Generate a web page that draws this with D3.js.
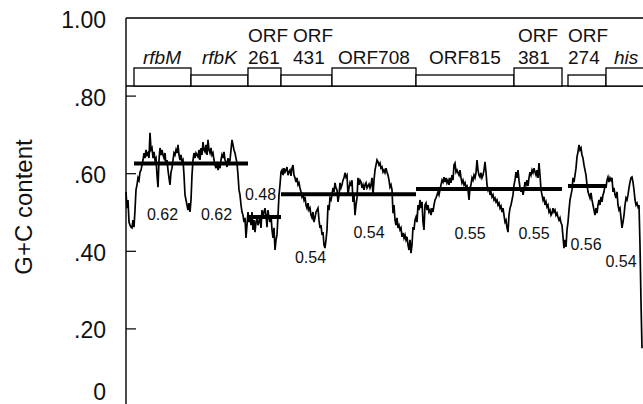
<!DOCTYPE html>
<html>
<head>
<meta charset="utf-8">
<script src="https://cdn.jsdelivr.net/npm/d3@7"></script>
<style>
  body { margin: 0; background: #fff; }
  svg { display: block; font-family: "Liberation Sans", Arial, Helvetica, sans-serif; }
</style>
</head>
<body>
<svg id="chart"></svg>
<script>
// G+C content (%) per sliding window
const gcPercent = [
  55.2,51.0,53.1,47.4,46.6,46.1,45.9,47.9,46.1,50.5,
  55.7,57.0,58.8,58.2,60.3,60.8,62.1,63.4,65.2,63.9,
  66.0,64.7,65.2,63.9,70.4,66.0,66.5,63.9,65.5,63.4,
  63.9,59.5,56.4,63.4,66.5,64.7,66.0,64.7,63.9,65.2,
  62.1,63.4,60.8,58.8,57.0,60.3,61.3,63.4,65.2,64.7,
  66.0,65.2,67.3,64.7,63.4,64.7,62.9,63.4,59.5,54.4,
  53.1,51.8,50.5,52.3,50.0,53.1,59.5,63.4,65.2,63.9,
  65.2,64.7,64.2,66.0,63.4,66.5,64.7,68.0,66.0,65.5,
  67.3,64.7,68.6,66.0,65.2,66.5,64.7,65.2,63.4,62.1,
  61.3,62.9,60.8,62.1,61.3,63.4,64.7,63.9,65.5,63.4,
  62.9,61.6,63.9,62.1,63.4,66.0,68.6,67.3,66.0,65.2,
  63.9,62.6,59.5,55.7,54.4,51.8,50.0,49.2,47.4,48.5,
  43.3,46.6,50.0,47.4,49.2,46.6,50.0,45.4,47.9,44.8,
  47.4,48.5,46.6,47.4,49.2,45.9,50.5,48.5,50.0,51.0,
  49.2,46.1,50.5,48.5,47.4,49.2,45.4,43.3,45.9,40.2,
  42.8,44.1,49.2,54.4,57.0,60.3,60.8,59.5,61.3,60.3,
  60.8,61.6,59.5,60.3,60.8,59.3,61.3,62.1,59.5,58.8,
  57.7,58.8,57.0,57.5,56.2,55.2,53.9,54.4,53.1,53.9,
  51.8,51.0,52.3,50.5,51.0,49.2,48.5,50.0,47.4,48.5,
  50.0,50.5,51.0,47.9,45.9,46.6,44.1,44.8,41.5,40.7,
  42.8,45.4,51.8,50.5,53.6,53.1,54.4,56.2,55.2,57.5,
  56.2,55.7,52.6,54.4,57.5,56.2,57.0,58.2,58.8,60.1,
  59.0,59.5,54.4,56.2,57.5,56.7,58.2,52.6,54.4,49.2,
  51.8,53.6,58.8,57.0,58.2,57.7,56.2,57.0,55.7,57.0,
  57.5,56.2,56.7,57.2,56.2,57.0,58.8,54.4,58.2,60.8,
  62.1,63.4,62.9,62.1,62.6,61.3,61.6,60.3,60.8,60.1,
  61.3,60.3,59.5,58.2,56.4,57.0,55.7,49.7,51.8,47.9,
  46.6,48.5,45.9,46.6,45.4,45.9,43.6,44.6,43.3,44.1,
  42.8,43.6,41.5,40.2,42.8,39.4,41.5,46.1,45.4,47.9,
  48.7,47.4,51.8,50.5,53.1,51.0,52.6,47.4,45.4,51.8,
  52.3,50.5,51.8,50.0,50.5,49.2,51.0,50.0,51.8,53.1,
  53.6,54.4,55.2,54.4,55.7,57.0,58.2,57.7,59.0,57.7,
  58.8,57.5,58.2,57.0,58.8,57.5,59.5,58.2,62.1,62.6,
  60.3,60.8,60.1,59.5,60.8,58.8,57.5,58.2,57.0,57.5,
  56.2,56.7,55.7,53.1,56.2,57.0,58.8,58.2,59.5,58.8,
  60.1,63.4,60.8,59.5,59.0,60.1,58.8,59.5,60.8,62.9,
  60.3,57.0,55.7,56.4,54.4,55.2,53.9,54.4,53.1,53.6,
  52.6,53.1,51.8,52.3,51.0,51.5,50.0,51.0,49.2,47.4,
  47.9,45.9,44.8,49.2,51.0,51.8,53.1,54.4,57.0,58.2,
  60.3,58.8,60.8,58.2,56.2,55.2,56.4,54.4,55.7,57.7,
  57.0,58.2,56.7,58.8,60.3,59.5,60.8,60.1,61.3,60.3,
  59.5,60.8,58.8,62.6,59.5,55.7,54.4,53.1,53.9,51.8,
  52.6,51.3,51.8,50.0,50.5,49.2,49.7,51.0,50.0,50.5,
  49.2,49.7,48.7,47.9,48.5,47.2,46.6,43.6,40.7,42.8,
  41.0,45.4,47.4,50.5,53.1,54.4,55.7,58.8,57.7,59.5,
  61.3,64.2,65.5,67.3,66.0,66.5,64.7,63.9,62.1,60.8,
  59.5,57.0,55.2,54.4,53.6,54.9,53.1,51.8,50.5,49.2,
  51.0,49.7,51.8,53.1,51.8,53.9,52.6,54.4,55.2,57.0,
  56.2,58.2,59.0,57.7,58.8,58.2,58.8,55.2,56.2,54.4,
  53.6,55.2,51.8,50.5,51.0,48.5,45.9,47.4,49.2,51.8,
  53.6,53.1,54.4,56.2,57.7,58.8,59.0,57.7,55.7,53.1,
  51.8,52.3,51.3,51.8,41.5,26.8,14.9
];
const windowStep = 25; // bp between windows

// gene map (bp)
const geneLabels = [['rfbM'], ['rfbK'], ['ORF', '261'], ['ORF', '431'], ['ORF708'], ['ORF815'], ['ORF', '381'], ['ORF', '274'], ['his']];
const geneItalic = [true, true, false, false, false, false, false, false, true];
const geneStart  = [200, 1625, 3050, 3875, 5150, 7250, 9700, 11050, 12000];
const geneEnd    = [1625, 3050, 3875, 5150, 7250, 9700, 10900, 12000, 13300];
const geneTall   = [true, false, true, false, true, false, true, false, true];

// mean G+C per gene
const meanText  = ['0.62', '0.62', '0.48', '0.54', '0.54', '0.55', '0.55', '0.56', '0.54'];
const meanLevel = [0.625, 0.625, 0.487, 0.546, 0.546, 0.559, 0.559, 0.567, null];

const yTickValues = [0, 0.2, 0.4, 0.6, 0.8, 1.0];
const yTickText   = ['0', '.20', '.40', '.60', '.80', '1.00'];

// layout
const W = 643, H = 404;
const plotLeft = 126, plotRight = 643, plotTop = 18, plotBottom = 406;
const mapBase = 86, tallTop = 68, shortTop = 75;
const geneLabelDx = [9, 11, 0, 12, 6, 13, 4, 0, 8];
const meanLabelDx = [0, -3, -4, 4, -5, 5, -4, -1, -11];
const meanLabelY  = [220, 220, 200, 263, 238, 239, 239, 250, 267];

const svg = d3.select('#chart').attr('width', W).attr('height', H);

const x = d3.scaleLinear().domain([0, gcPercent.length * windowStep]).range([plotLeft, plotRight]);
const y = d3.scaleLinear().domain([0, 1]).range([plotBottom, plotTop]);

// frame
svg.append('line')
  .attr('x1', plotLeft).attr('x2', plotLeft).attr('y1', plotTop).attr('y2', H)
  .attr('stroke', '#000').attr('stroke-width', 1.4);
svg.append('line')
  .attr('x1', plotLeft).attr('x2', plotRight).attr('y1', y(1)).attr('y2', y(1))
  .attr('stroke', '#000').attr('stroke-width', 1.4);

// inward ticks
const axis = svg.append('g')
  .attr('transform', `translate(${plotLeft},0)`)
  .call(d3.axisRight(y).tickValues([0.2, 0.4, 0.6, 0.8]).tickSize(10).tickFormat(''));
axis.select('.domain').remove();
axis.selectAll('.tick line').attr('stroke', '#000').attr('stroke-width', 1.2);

svg.append('g').selectAll('text')
  .data(yTickValues)
  .enter().append('text')
  .attr('x', 106)
  .attr('y', d => Math.min(y(d) + 2, 392))
  .attr('dy', '0.35em')
  .style('text-anchor', 'end')
  .style('font-size', '23px')
  .style('fill', '#111')
  .text((d, i) => yTickText[i]);

svg.append('text')
  .attr('transform', 'translate(32,207) rotate(-90)')
  .style('text-anchor', 'middle')
  .style('font-size', '24px')
  .style('fill', '#111')
  .text('G+C content');

// gene map
svg.append('line')
  .attr('x1', plotLeft).attr('x2', plotRight).attr('y1', mapBase).attr('y2', mapBase)
  .attr('stroke', '#000').attr('stroke-width', 1.6);

const genes = geneStart.map((s, i) => ({ s, e: geneEnd[i], tall: geneTall[i], lines: geneLabels[i], italic: geneItalic[i], dx: geneLabelDx[i] }));

svg.append('g').selectAll('rect')
  .data(genes)
  .enter().append('rect')
  .attr('x', d => x(d.s))
  .attr('y', d => d.tall ? tallTop : shortTop)
  .attr('width', d => x(d.e) - x(d.s))
  .attr('height', d => mapBase - (d.tall ? tallTop : shortTop))
  .attr('fill', '#fff')
  .attr('stroke', '#000')
  .attr('stroke-width', 1.3);

const gl = svg.append('g').selectAll('text')
  .data(genes)
  .enter().append('text')
  .style('font-size', '19px')
  .style('font-style', d => d.italic ? 'italic' : 'normal')
  .style('fill', '#111');
gl.each(function(d) {
  const t = d3.select(this);
  d.lines.forEach((ln, k) => {
    t.append('tspan')
      .attr('x', x(d.s) + d.dx)
      .attr('y', d.lines.length === 2 && k === 0 ? 42 : 64)
      .text(ln);
  });
});

// G+C trace
const line = d3.line()
  .x((d, i) => x(i * windowStep))
  .y(d => y(d / 100));

svg.append('path')
  .datum(gcPercent)
  .attr('d', line)
  .attr('fill', 'none')
  .attr('stroke', '#000')
  .attr('stroke-width', 1.7);

// gene means
svg.append('g').selectAll('line')
  .data(genes.map((g, i) => ({ ...g, m: meanLevel[i] })).filter(d => d.m !== null))
  .enter().append('line')
  .attr('x1', d => x(d.s))
  .attr('x2', d => x(d.e))
  .attr('y1', d => y(d.m))
  .attr('y2', d => y(d.m))
  .attr('stroke', '#000')
  .attr('stroke-width', 4);

svg.append('g').selectAll('text')
  .data(genes)
  .enter().append('text')
  .attr('x', (d, i) => (x(d.s) + x(d.e)) / 2 + meanLabelDx[i])
  .attr('y', (d, i) => meanLabelY[i])
  .style('text-anchor', 'middle')
  .style('font-size', '16px')
  .style('fill', '#111')
  .text((d, i) => meanText[i]);
</script>
</body>
</html>
